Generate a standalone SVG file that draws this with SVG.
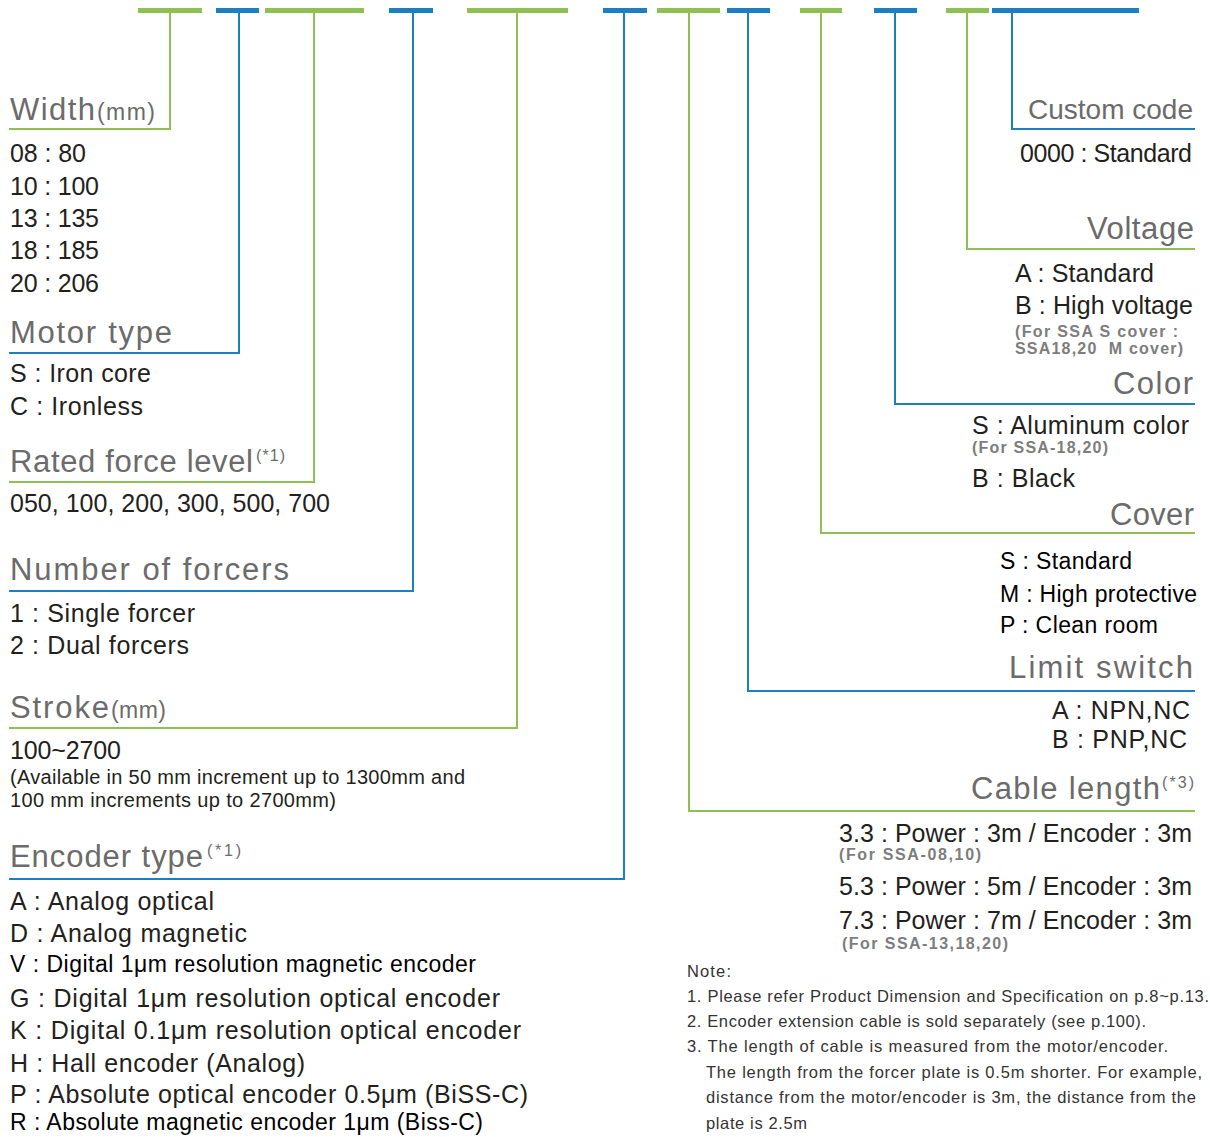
<svg xmlns="http://www.w3.org/2000/svg" width="1210" height="1137" viewBox="0 0 1210 1137">
<style>
text{font-family:"Liberation Sans",Arial,sans-serif}
.t{font-size:31px;fill:#6b6b6b}
.u{font-size:23px;fill:#6b6b6b}
.s{font-size:16px;fill:#6b6b6b}
.b{font-size:25px;fill:#231f20}
.a{font-size:23px;fill:#000}
.m{font-size:20px;fill:#231f20}
.n{font-size:16.5px;fill:#333}
.g{font-size:16px;font-weight:bold;fill:#7d7d7d}
.r{text-anchor:end}
.gb{fill:#8dc153}
.bb{fill:#1b7fc1}
.gl{fill:none;stroke:#8dc153;stroke-width:2}
.bl{fill:none;stroke:#1b7fc1;stroke-width:2}
</style>
<rect width="1210" height="1137" fill="#fff"/>
<g id="connectors">
<rect class="gb" x="138" y="8" width="64" height="5"/>
<rect class="bb" x="216" y="8" width="43" height="5"/>
<rect class="gb" x="265" y="8" width="99" height="5"/>
<rect class="bb" x="389" y="8" width="44" height="5"/>
<rect class="gb" x="467" y="8" width="101" height="5"/>
<rect class="bb" x="603" y="8" width="44" height="5"/>
<rect class="gb" x="657" y="8" width="63" height="5"/>
<rect class="bb" x="727" y="8" width="43" height="5"/>
<rect class="gb" x="800" y="8" width="42" height="5"/>
<rect class="bb" x="874" y="8" width="43" height="5"/>
<rect class="gb" x="946" y="8" width="43" height="5"/>
<rect class="bb" x="992" y="8" width="147" height="5"/>
<polyline class="gl" points="170,12 170,129 9,129"/>
<polyline class="bl" points="239,12 239,353 9,353"/>
<polyline class="gl" points="314,12 314,482 9,482"/>
<polyline class="bl" points="413,12 413,591 9,591"/>
<polyline class="gl" points="517,12 517,728 9,728"/>
<polyline class="bl" points="624,12 624,879 9,879"/>
<polyline class="gl" points="689,12 689,811 1195,811"/>
<polyline class="bl" points="748,12 748,691 1195,691"/>
<polyline class="gl" points="821,12 821,533 1195,533"/>
<polyline class="bl" points="895,12 895,404 1195,404"/>
<polyline class="gl" points="967,12 967,249 1195,249"/>
<polyline class="bl" points="1012,12 1012,129 1195,129"/>
</g>
<g id="width">
<text class="t" x="10" y="120" textLength="85">Width</text>
<text class="u" x="97" y="120" textLength="58">(mm)</text>
<text class="b" x="10" y="162" textLength="76">08 : 80</text>
<text class="b" x="10" y="195" textLength="89">10 : 100</text>
<text class="b" x="10" y="227" textLength="89">13 : 135</text>
<text class="b" x="10" y="259" textLength="89">18 : 185</text>
<text class="b" x="10" y="292" textLength="89">20 : 206</text>
</g>
<g id="motor-type">
<text class="t" x="10" y="343" textLength="162">Motor type</text>
<text class="b" x="10" y="382" textLength="141">S : Iron core</text>
<text class="b" x="10" y="415" textLength="133">C : Ironless</text>
</g>
<g id="rated-force">
<text class="t" x="10" y="472" textLength="243">Rated force level</text>
<text class="s" x="256" y="461" textLength="29">(*1)</text>
<text class="b" x="10" y="512" textLength="320">050, 100, 200, 300, 500, 700</text>
</g>
<g id="number-of-forcers">
<text class="t" x="10" y="580" textLength="279">Number of forcers</text>
<text class="b" x="10" y="622" textLength="185">1 : Single forcer</text>
<text class="b" x="10" y="654" textLength="179">2 : Dual forcers</text>
</g>
<g id="stroke">
<text class="t" x="10" y="718" textLength="99">Stroke</text>
<text class="u" x="111" y="718" textLength="55">(mm)</text>
<text class="b" x="10" y="759" textLength="111">100~2700</text>
<text class="m" x="10" y="784" textLength="455">(Available in 50 mm increment up to 1300mm and</text>
<text class="m" x="10" y="807" textLength="326">100 mm increments up to 2700mm)</text>
</g>
<g id="encoder-type">
<text class="t" x="10" y="867" textLength="193">Encoder type</text>
<text class="s" x="207" y="856" textLength="34">(*1)</text>
<text class="b" x="10" y="910" textLength="204">A : Analog optical</text>
<text class="b" x="10" y="942" textLength="237">D : Analog magnetic</text>
<text class="a" x="10" y="972" textLength="466">V : Digital 1μm resolution magnetic encoder</text>
<text class="b" x="10" y="1007" textLength="490">G : Digital 1μm resolution optical encoder</text>
<text class="b" x="10" y="1039" textLength="511">K : Digital 0.1μm resolution optical encoder</text>
<text class="b" x="10" y="1072" textLength="295">H : Hall encoder (Analog)</text>
<text class="b" x="10" y="1103" textLength="518">P : Absolute optical encoder 0.5μm (BiSS-C)</text>
<text class="a" x="10" y="1130" textLength="473">R : Absolute magnetic encoder 1μm (Biss-C)</text>
</g>
<g id="custom-code">
<text class="t r" x="1193" y="119" textLength="165" style="font-size:28px">Custom code</text>
<text class="b" x="1020" y="162" textLength="172">0000 : Standard</text>
</g>
<g id="voltage">
<text class="t r" x="1194" y="239" textLength="107">Voltage</text>
<text class="b" x="1015" y="282" textLength="139">A : Standard</text>
<text class="b" x="1015" y="314" textLength="178">B : High voltage</text>
<text class="g" x="1015" y="337" textLength="163">(For SSA S cover :</text>
<text class="g" x="1015" y="354" textLength="168">SSA18,20&#160; M cover)</text>
</g>
<g id="color">
<text class="t r" x="1193" y="394" textLength="80">Color</text>
<text class="b" x="972" y="434" textLength="217">S : Aluminum color</text>
<text class="g" x="972" y="453" textLength="136">(For SSA-18,20)</text>
<text class="b" x="972" y="487" textLength="103">B : Black</text>
</g>
<g id="cover">
<text class="t r" x="1194" y="525" textLength="84">Cover</text>
<text class="a" x="1000" y="569" textLength="132">S : Standard</text>
<text class="a" x="1000" y="602" textLength="197">M : High protective</text>
<text class="a" x="1000" y="633" textLength="158">P : Clean room</text>
</g>
<g id="limit-switch">
<text class="t r" x="1193" y="678" textLength="184">Limit switch</text>
<text class="b" x="1052" y="719" textLength="138">A : NPN,NC</text>
<text class="b" x="1052" y="748" textLength="135">B : PNP,NC</text>
</g>
<g id="cable-length">
<text class="t" x="971" y="799" textLength="189">Cable length</text>
<text class="s" x="1162" y="788" textLength="32">(*3)</text>
<text class="b" x="839" y="842" textLength="353">3.3 : Power : 3m / Encoder : 3m</text>
<text class="g" x="839" y="860" textLength="142">(For SSA-08,10)</text>
<text class="b" x="839" y="895" textLength="353">5.3 : Power : 5m / Encoder : 3m</text>
<text class="b" x="839" y="929" textLength="353">7.3 : Power : 7m / Encoder : 3m</text>
<text class="g" x="842" y="949" textLength="166">(For SSA-13,18,20)</text>
</g>
<g id="notes">
<text class="n" x="687" y="977" textLength="44">Note:</text>
<text class="n" x="687" y="1002" textLength="522">1. Please refer Product Dimension and Specification on p.8~p.13.</text>
<text class="n" x="687" y="1027" textLength="459">2. Encoder extension cable is sold separately (see p.100).</text>
<text class="n" x="687" y="1052" textLength="481">3. The length of cable is measured from the motor/encoder.</text>
<text class="n" x="706" y="1078" textLength="496">The length from the forcer plate is 0.5m shorter. For example,</text>
<text class="n" x="706" y="1103" textLength="490">distance from the motor/encoder is 3m, the distance from the</text>
<text class="n" x="706" y="1129" textLength="101">plate is 2.5m</text>
</g>
</svg>
